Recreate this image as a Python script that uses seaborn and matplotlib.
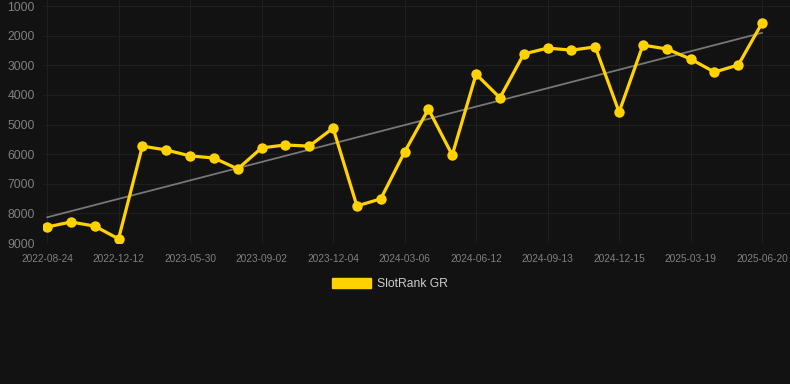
import matplotlib
matplotlib.use("Agg")
import matplotlib.pyplot as plt
from matplotlib.patches import Patch
import seaborn as sns
import numpy as np
import pandas as pd

# Data (rank values; lower is better, axis inverted)
ranks = [8460, 8290, 8430, 8860, 5730, 5860, 6060, 6130, 6500, 5790,
         5690, 5730, 5120, 7750, 7510, 5930, 4480, 6030, 3300, 4100,
         2620, 2420, 2490, 2380, 4580, 2320, 2450, 2790, 3230, 2990, 1570]
tick_labels = ["2022-08-24", "2022-12-12", "2023-05-30", "2023-09-02",
               "2023-12-04", "2024-03-06", "2024-06-12", "2024-09-13",
               "2024-12-15", "2025-03-19", "2025-06-20"]
y_ticks = [1000, 2000, 3000, 4000, 5000, 6000, 7000, 8000, 9000]
series_name = "SlotRank GR"

df = pd.DataFrame({"idx": np.arange(len(ranks)), "rank": ranks})

BG = "#121212"
GRID = "#1f1f1f"
YELLOW = "#FFD200"

sns.set_theme(style="dark")
plt.rcParams["font.family"] = ["Liberation Sans", "DejaVu Sans"]

fig = plt.figure(figsize=(7.9, 3.84), dpi=100, facecolor=BG)
ax = fig.add_axes([43 / 790, 141 / 384, 1 - 43 / 790, 1 - 141 / 384])
ax.set_facecolor(BG)

# trend line
sns.regplot(data=df, x="idx", y="rank", scatter=False, ci=None, ax=ax,
            line_kws=dict(color="#777777", lw=1.3), truncate=True)

sns.lineplot(data=df, x="idx", y="rank", ax=ax, color=YELLOW, lw=2.3,
             marker="o", markersize=7.5, markeredgewidth=0, zorder=5)

ax.set_xlim(-0.17, len(ranks) - 1 + 1.17)
ax.set_ylim(9000, 797)

ax.set_xticks(np.arange(0, len(ranks), 3))
ax.set_xticklabels(tick_labels)
ax.set_yticks(y_ticks)
ax.set_yticklabels([str(v) for v in y_ticks])

ax.tick_params(axis="x", colors="#808080", labelsize=7.3, length=0, pad=8)
ax.tick_params(axis="y", colors="#808080", labelsize=8.7, length=0, pad=6)

ax.grid(True, color=GRID, lw=0.8)
for s in ax.spines.values():
    s.set_visible(False)
ax.axhline(9000, color="#262626", lw=0.9, zorder=1)
ax.set_xlabel("")
ax.set_ylabel("")

handle = Patch(facecolor=YELLOW, edgecolor=YELLOW)
leg = fig.legend([handle], [series_name], loc="center",
                 bbox_to_anchor=(390 / 790, 1 - 284 / 384), frameon=False,
                 handlelength=3.2, handleheight=0.95, handletextpad=0.55,
                 fontsize=8.7)
for t in leg.get_texts():
    t.set_color("#cccccc")

fig.savefig("out.png", dpi=100, facecolor=BG)
